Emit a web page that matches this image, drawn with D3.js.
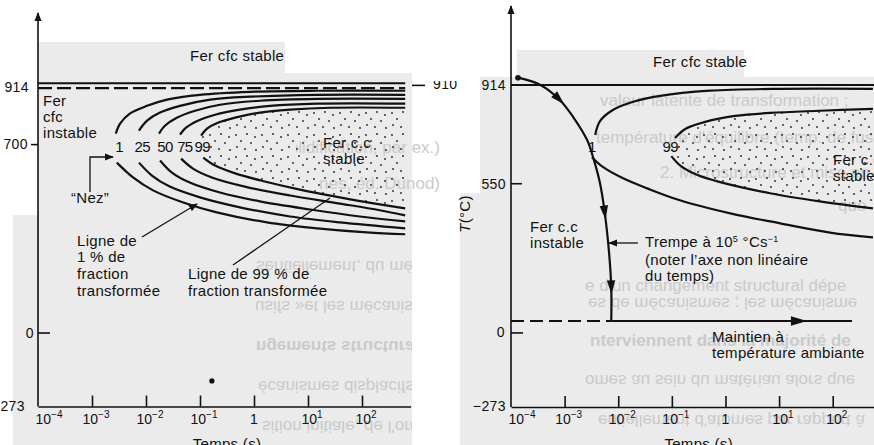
<!DOCTYPE html>
<html>
<head>
<meta charset="utf-8">
<script src="https://cdnjs.cloudflare.com/ajax/libs/d3/7.8.5/d3.min.js"></script>
<style>
  body { margin: 0; background: #fff; }
  svg { display: block; font-family: "Liberation Sans", Arial, sans-serif; }
  .lbl { font-size: 15px; fill: #111; letter-spacing: 0.3px; }
  .nose { font-size: 15px; fill: #111; letter-spacing: -0.6px; text-anchor: middle; }
  .tick-lbl { font-size: 14px; fill: #111; text-anchor: middle; }
  .ylbl { font-size: 14px; fill: #111; letter-spacing: 0.4px; }
  .ghost { font-size: 17px; fill: #cacaca; }
  .curve { fill: none; stroke: #111; stroke-width: 2.2; }
  .axis-line { stroke: #111; stroke-width: 1.6; fill: none; }
  .thin { stroke: #111; stroke-width: 1.3; fill: none; }
</style>
</head>
<body>
<script>
// temps en log10(s), température en °C
const decades = [-4, -3, -2, -1, 0, 1, 2];
const decadeLabels = [["10", "−4"], ["10", "−3"], ["10", "−2"], ["10", "−1"], ["1", ""], ["10", "1"], ["10", "2"]];
const leftTempTicks = ["914", "700", "0", "−273"];
const rightTempTicks = ["914", "550", "0", "−273"];

// --- diagramme de gauche : lignes 1, 25, 50, 75, 99 % ---
const fractions = ["1", "25", "50", "75", "99"];
const noseTimes = [-2.50, -2.07, -1.65, -1.28, -0.96];
const noseLabelT = 672;

const upper1  = [[2.80, 900], [1.17, 900], [-0.07, 896], [-1.00, 885], [-1.61, 867], [-1.98, 844], [-2.30, 815], [-2.48, 778], [-2.56, 741]];
const lower1  = [[-2.54, 633], [-2.24, 578], [-1.87, 530], [-1.31, 485], [-0.69, 448], [0.24, 411], [1.17, 389], [2.09, 374], [2.80, 367]];
const upper25 = [[2.80, 885], [1.17, 885], [-0.07, 878], [-0.81, 867], [-1.37, 844], [-1.74, 819], [-1.98, 789], [-2.13, 752]];
const lower25 = [[-2.13, 633], [-1.89, 585], [-1.56, 544], [-1.00, 504], [-0.26, 467], [0.67, 433], [1.59, 411], [2.80, 389]];
const upper50 = [[2.80, 870], [1.17, 870], [0.11, 863], [-0.63, 848], [-1.09, 826], [-1.43, 800], [-1.65, 770], [-1.76, 741]];
const lower50 = [[-1.74, 641], [-1.52, 596], [-1.19, 559], [-0.63, 522], [0.11, 489], [1.04, 459], [1.96, 433], [2.80, 415]];
const upper75 = [[2.80, 852], [1.17, 852], [0.30, 844], [-0.26, 830], [-0.72, 811], [-1.04, 789], [-1.26, 763], [-1.37, 737]];
const lower75 = [[-1.35, 648], [-1.13, 611], [-0.78, 578], [-0.17, 544], [0.67, 511], [1.59, 481], [2.33, 456], [2.80, 437]];
const upper99 = [[2.80, 837], [1.41, 837], [0.67, 830], [0.11, 819], [-0.35, 800], [-0.67, 781], [-0.87, 759], [-0.98, 733]];
const lower99 = [[-0.94, 652], [-0.72, 622], [-0.35, 593], [0.20, 563], [0.85, 533], [1.59, 504], [2.33, 478], [2.80, 463]];
const leftUpper = [upper1, upper25, upper50, upper75, upper99];
const leftLower = [lower1, lower25, lower50, lower75, lower99];
const leftTopLine = 928;     // trait plein
const leftEqLine = 910;      // tirets

// --- diagramme de droite ---
const rUpper1  = [[-2.43, 730], [-2.34, 781], [-2.10, 822], [-1.72, 852], [-1.22, 874], [-0.29, 893], [1.02, 900], [2.75, 900]];
const rLower1  = [[-2.49, 648], [-2.28, 611], [-1.91, 570], [-1.46, 533], [-0.85, 489], [0.09, 441], [1.02, 404], [1.95, 370], [2.75, 352]];
const rUpper99 = [[2.75, 826], [1.76, 819], [0.83, 811], [0.18, 800], [-0.38, 778], [-0.75, 752], [-0.94, 719]];
const rLower99 = [[-1.01, 652], [-0.83, 615], [-0.51, 581], [-0.10, 556], [0.83, 515], [1.76, 485], [2.75, 459]];
const rNoseLabels = [["1", -2.49], ["99", -1.03]];
const rNoseLabelT = 667;
const quench = [[-3.87, 941], [-3.46, 915], [-3.09, 859], [-2.84, 796], [-2.58, 711], [-2.47, 648], [-2.34, 552], [-2.25, 441], [-2.17, 293], [-2.13, 167], [-2.13, 44]];
const quenchArrows = [[-3.09, 859], [-2.25, 441], [-2.14, 165]];
const holdT = 44, holdEnd = 2.36, holdArrow = 1.39;

const W = 874, H = 445;
const svg = d3.select("body").append("svg").attr("width", W).attr("height", H);
const defs = svg.append("defs");

defs.append("marker").attr("id", "arrow")
  .attr("viewBox", "0 0 10 10").attr("refX", 9).attr("refY", 5)
  .attr("markerWidth", 9).attr("markerHeight", 9).attr("markerUnits", "userSpaceOnUse")
  .attr("orient", "auto")
  .append("path").attr("d", "M0,1L10,5L0,9Z").attr("fill", "#111");

const pat = defs.append("pattern").attr("id", "dots")
  .attr("patternUnits", "userSpaceOnUse").attr("width", 26).attr("height", 22);
[[2, 3], [13, 2], [21, 5], [7, 9], [17, 11], [3, 15], [11, 17], [22, 18]].forEach(([cx, cy]) =>
  pat.append("circle").attr("cx", cx).attr("cy", cy).attr("r", 0.9).attr("fill", "#222"));

function clipRect(id, x, y, w, h) {
  defs.append("clipPath").attr("id", id).append("rect").attr("x", x).attr("y", y).attr("width", w).attr("height", h);
}
clipRect("clip910", 400, 81, 80, 20);
clipRect("gLow", 255, 200, 157, 245);
clipRect("gTop1", 296, 120, 144, 40);
clipRect("gTop2", 318, 165, 122, 30);
clipRect("gR", 585, 80, 289, 365);

// fond gris du scan
svg.append("path").attr("fill", "#ebebeb")
  .attr("d", "M38,42H285V73H412V445H13V215H38Z");
svg.append("path").attr("fill", "#ebebeb")
  .attr("d", "M517,50H744V77H874V445H460V193H480V77H517Z");

// texte de la page vu par transparence
const ghostRows = [
  { t: "'agit de la solidification, par ex.)", x: 440, y: 147, end: true, clip: "gTop1" },
  { t: "(M.F. Ashby, D.R.H. Jones, éd. Dunod)", x: 440, y: 183, end: true, clip: "gTop2" },
  { t: "sentiellement, du mécanisme mis en", x: 256, y: 266, flip: true, clip: "gLow" },
  { t: "usifs »et les mécanismes « displac", x: 255, y: 306, flip: true, clip: "gLow" },
  { t: "ngements structuraux mettent, e", x: 256, y: 346, flip: true, bold: true, clip: "gLow" },
  { t: "écanismes displacifs ne mettent en", x: 258, y: 386, flip: true, clip: "gLow" },
  { t: "sition initiale, de l'ordre de la distan", x: 262, y: 426, flip: true, clip: "gLow" },
  { t: "valeur latente de transformation ;", x: 600, y: 100, clip: "gR" },
  { t: "température d'équilibre (temp. de fus", x: 596, y: 137, clip: "gR" },
  { t: "2. Microstructure et mise en", x: 660, y: 172, clip: "gR" },
  { t: "que", x: 838, y: 205, clip: "gR" },
  { t: "e d'un changement structural dépe", x: 585, y: 285, clip: "gR" },
  { t: "es de mécanismes ; les mécanisme", x: 588, y: 303, flip: true, clip: "gR" },
  { t: "nterviennent dans la majorité de", x: 590, y: 340, bold: true, clip: "gR" },
  { t: "omes au sein du matériau alors que", x: 585, y: 380, flip: true, clip: "gR" },
  { t: "entiellement d'atomes par rapport à", x: 598, y: 420, flip: true, clip: "gR" }
];
const ghost = svg.append("g");
ghostRows.forEach(r => {
  ghost.append("g").attr("clip-path", `url(#${r.clip})`)
    .append("text").attr("class", "ghost")
    .attr("text-anchor", r.end ? "end" : "start")
    .attr("dominant-baseline", "central")
    .attr("font-weight", r.bold ? "bold" : null)
    .attr("transform", `translate(${r.x},${r.y}) scale(1,${r.flip ? -1 : 1})`)
    .text(r.t);
});

// --- échelles ---
const xL = d3.scaleLinear().domain([-4, 2.9]).range([38, 410.6]);
const yL = d3.scaleLinear().domain([-273, 914]).range([406.5, 87]);
const xR = d3.scaleLinear().domain([-4, 2.77]).range([511, 874]);
const yR = d3.scaleLinear().domain([-273, 914]).range([407, 85]);

function lineGen(x, y) {
  return d3.line().x(d => x(d[0])).y(d => y(d[1])).curve(d3.curveCatmullRom.alpha(0.5));
}

function drawAxes(x, y, yTop) {
  const xAxis = svg.append("g").attr("transform", `translate(0,${y(-273)})`)
    .call(d3.axisBottom(x).tickValues(decades.slice(1)).tickSize(-11).tickSizeOuter(0).tickFormat(""));
  xAxis.selectAll("path, line").attr("stroke", "#111").attr("stroke-width", 1.6);

  decades.forEach((d, i) => {
    const [b, s] = decadeLabels[i];
    const t = svg.append("text").attr("class", "tick-lbl")
      .attr("x", x(d) + (i === 0 ? 11 : (s ? 4 : 0))).attr("y", y(-273) + 17);
    t.append("tspan").text(b);
    if (s) t.append("tspan").attr("dy", -6).attr("font-size", 10).text(s);
  });

  svg.append("line").attr("class", "axis-line")
    .attr("x1", x(-4)).attr("x2", x(-4))
    .attr("y1", y(-273)).attr("y2", yTop)
    .attr("marker-end", "url(#arrow)");

  svg.append("text").attr("class", "lbl").attr("text-anchor", "middle")
    .attr("x", x(-0.5)).attr("y", 449).text("Temps (s)");
}

function arrowOnPath(node, px, py, size) {
  const L = node.getTotalLength();
  let best = 0, bd = Infinity;
  for (let l = 0; l <= L; l += 0.5) {
    const p = node.getPointAtLength(l);
    const d = (p.x - px) ** 2 + (p.y - py) ** 2;
    if (d < bd) { bd = d; best = l; }
  }
  const a = node.getPointAtLength(Math.max(0, best - 2));
  const b = node.getPointAtLength(Math.min(L, best + 2));
  const ang = Math.atan2(b.y - a.y, b.x - a.x) * 180 / Math.PI;
  const p = node.getPointAtLength(best);
  svg.append("path").attr("fill", "#111")
    .attr("d", `M${size * 0.45},0L${-size * 0.55},${-size * 0.3}L${-size * 0.55},${size * 0.3}Z`)
    .attr("transform", `translate(${p.x},${p.y}) rotate(${ang})`);
}

// ================= GAUCHE =================
const lineL = lineGen(xL, yL);

svg.append("path")
  .attr("d", lineL([...upper99, ...lower99]) + "Z")
  .attr("fill", "url(#dots)");

drawAxes(xL, yL, 13);

svg.append("line").attr("class", "curve").attr("stroke-width", 2)
  .attr("x1", xL(-4)).attr("x2", xL(2.8)).attr("y1", yL(leftTopLine)).attr("y2", yL(leftTopLine));
svg.append("line").attr("class", "curve").attr("stroke-width", 1.8).attr("stroke-dasharray", "14,5")
  .attr("x1", xL(-4)).attr("x2", xL(2.8)).attr("y1", yL(leftEqLine)).attr("y2", yL(leftEqLine));

svg.append("g").selectAll("path").data([...leftUpper, ...leftLower]).join("path")
  .attr("class", "curve").attr("d", lineL);

svg.selectAll(".noseL").data(fractions).join("text")
  .attr("class", "nose").attr("x", (d, i) => xL(noseTimes[i])).attr("y", yL(noseLabelT)).text(d => d);

// graduations température
const lyBase = [92, 149, 338, 411];
const lyEnd = [29, 28, 34, 25];
leftTempTicks.forEach((t, i) => {
  svg.append("text").attr("class", "ylbl").style("text-anchor", "end")
    .attr("x", lyEnd[i]).attr("y", lyBase[i]).text(t);
});
svg.append("line").attr("class", "axis-line").attr("x1", 31).attr("x2", xL(-4)).attr("y1", yL(700)).attr("y2", yL(700));
svg.append("line").attr("class", "axis-line").attr("x1", xL(-4)).attr("x2", xL(-4) + 12).attr("y1", yL(0)).attr("y2", yL(0));

// repère 910
svg.append("line").attr("class", "axis-line").attr("x1", 412).attr("x2", 425).attr("y1", yL(920)).attr("y2", yL(920));
svg.append("text").attr("class", "ylbl").style("text-anchor", "start").attr("clip-path", "url(#clip910)")
  .attr("x", 433).attr("y", 89).text("910");

// textes gauche
svg.append("text").attr("class", "lbl").attr("x", 190).attr("y", 61).text("Fer cfc stable");
[["Fer", 106], ["cfc", 122], ["instable", 138]].forEach(([t, y]) =>
  svg.append("text").attr("class", "lbl").attr("x", 43).attr("y", y).text(t));
svg.append("text").attr("class", "lbl").attr("x", 323).attr("y", 148).text("Fer c.c");
svg.append("text").attr("class", "lbl").attr("x", 323).attr("y", 164).text("stable");

svg.append("text").attr("class", "lbl").attr("x", 71).attr("y", 203).text("“Nez”");
svg.append("path").attr("class", "thin").attr("d", "M90,192V157H113").attr("marker-end", "url(#arrow)");

[["Ligne de", 246], ["1 % de", 262], ["fraction", 279], ["transformée", 296]].forEach(([t, y]) =>
  svg.append("text").attr("class", "lbl").attr("x", 77).attr("y", y).text(t));
svg.append("line").attr("class", "thin").attr("x1", 142).attr("y1", 237).attr("x2", 197).attr("y2", 204)
  .attr("marker-end", "url(#arrow)");

svg.append("text").attr("class", "lbl").attr("x", 188).attr("y", 279).text("Ligne de 99 % de");
svg.append("text").attr("class", "lbl").attr("x", 188).attr("y", 296).text("fraction transformée");
svg.append("line").attr("class", "thin").attr("x1", 233).attr("y1", 265).attr("x2", 330).attr("y2", 198);

svg.append("circle").attr("cx", xL(-0.78)).attr("cy", yL(-178)).attr("r", 2.6).attr("fill", "#111");

// ================= DROITE =================
const lineR = lineGen(xR, yR);

svg.append("path")
  .attr("d", lineR([...rUpper99, ...rLower99]) + "Z")
  .attr("fill", "url(#dots)");

drawAxes(xR, yR, 6);

svg.append("line").attr("class", "curve").attr("stroke-width", 2)
  .attr("x1", xR(-4)).attr("x2", xR(2.77)).attr("y1", yR(914)).attr("y2", yR(914));

svg.append("g").selectAll("path").data([rUpper1, rLower1, rUpper99, rLower99]).join("path")
  .attr("class", "curve").attr("d", lineR);

svg.selectAll(".noseR").data(rNoseLabels).join("text")
  .attr("class", "nose").attr("x", d => xR(d[1])).attr("y", yR(rNoseLabelT)).text(d => d[0]);

// trempe
const qPath = svg.append("path").attr("class", "curve").attr("stroke-width", 1.6).attr("d", lineR(quench));
quenchArrows.forEach(d => arrowOnPath(qPath.node(), xR(d[0]), yR(d[1]), 14));
svg.append("circle").attr("cx", xR(quench[0][0])).attr("cy", yR(quench[0][1])).attr("r", 2.8).attr("fill", "#111");

// maintien à température ambiante
svg.append("line").attr("class", "curve").attr("stroke-width", 1.8).attr("stroke-dasharray", "13,6")
  .attr("x1", xR(-4)).attr("x2", xR(quench[quench.length - 1][0])).attr("y1", yR(holdT)).attr("y2", yR(holdT));
const hold = svg.append("path").attr("class", "curve").attr("stroke-width", 1.8)
  .attr("d", lineR([[quench[quench.length - 1][0], holdT], [holdEnd, holdT]]));
arrowOnPath(hold.node(), xR(holdArrow), yR(holdT), 16);

// graduations droite
const ryBase = [90, 189, 337, 411];
const ryEnd = [506, 506, 505, 506];
rightTempTicks.forEach((t, i) => {
  svg.append("text").attr("class", "ylbl").style("text-anchor", "end")
    .attr("x", ryEnd[i]).attr("y", ryBase[i]).text(t);
});
svg.append("line").attr("class", "axis-line").attr("x1", xR(-4)).attr("x2", xR(-4) + 11).attr("y1", yR(550)).attr("y2", yR(550));
svg.append("line").attr("class", "axis-line").attr("x1", xR(-4)).attr("x2", xR(-4) + 12).attr("y1", yR(0)).attr("y2", yR(0));

const tl = svg.append("text").attr("class", "lbl").attr("text-anchor", "middle")
  .attr("transform", "translate(470,214) rotate(-90)");
tl.append("tspan").attr("font-style", "italic").text("T");
tl.append("tspan").text("(°C)");

// textes droite
svg.append("text").attr("class", "lbl").attr("x", 653).attr("y", 67).text("Fer cfc stable");
svg.append("text").attr("class", "lbl").attr("x", 833).attr("y", 165).text("Fer c.c");
svg.append("text").attr("class", "lbl").attr("x", 833).attr("y", 181).text("stable");
svg.append("text").attr("class", "lbl").attr("x", 530).attr("y", 232).text("Fer c.c");
svg.append("text").attr("class", "lbl").attr("x", 530).attr("y", 248).text("instable");

const tr = svg.append("text").attr("class", "lbl").attr("x", 645).attr("y", 247);
tr.append("tspan").text("Trempe à 10");
tr.append("tspan").attr("dy", -5).attr("font-size", 9).text("5");
tr.append("tspan").attr("dy", 5).text(" °Cs");
tr.append("tspan").attr("dy", -5).attr("font-size", 9).text("−1");
svg.append("text").attr("class", "lbl").attr("x", 645).attr("y", 265).text("(noter l’axe non linéaire");
svg.append("text").attr("class", "lbl").attr("x", 645).attr("y", 281).text("du temps)");
svg.append("line").attr("class", "thin").attr("x1", 638).attr("y1", 243).attr("x2", 609).attr("y2", 243)
  .attr("marker-end", "url(#arrow)");

svg.append("text").attr("class", "lbl").attr("x", 712).attr("y", 342).text("Maintien à");
svg.append("text").attr("class", "lbl").attr("x", 712).attr("y", 358).text("température ambiante");
</script>
</body>
</html>
